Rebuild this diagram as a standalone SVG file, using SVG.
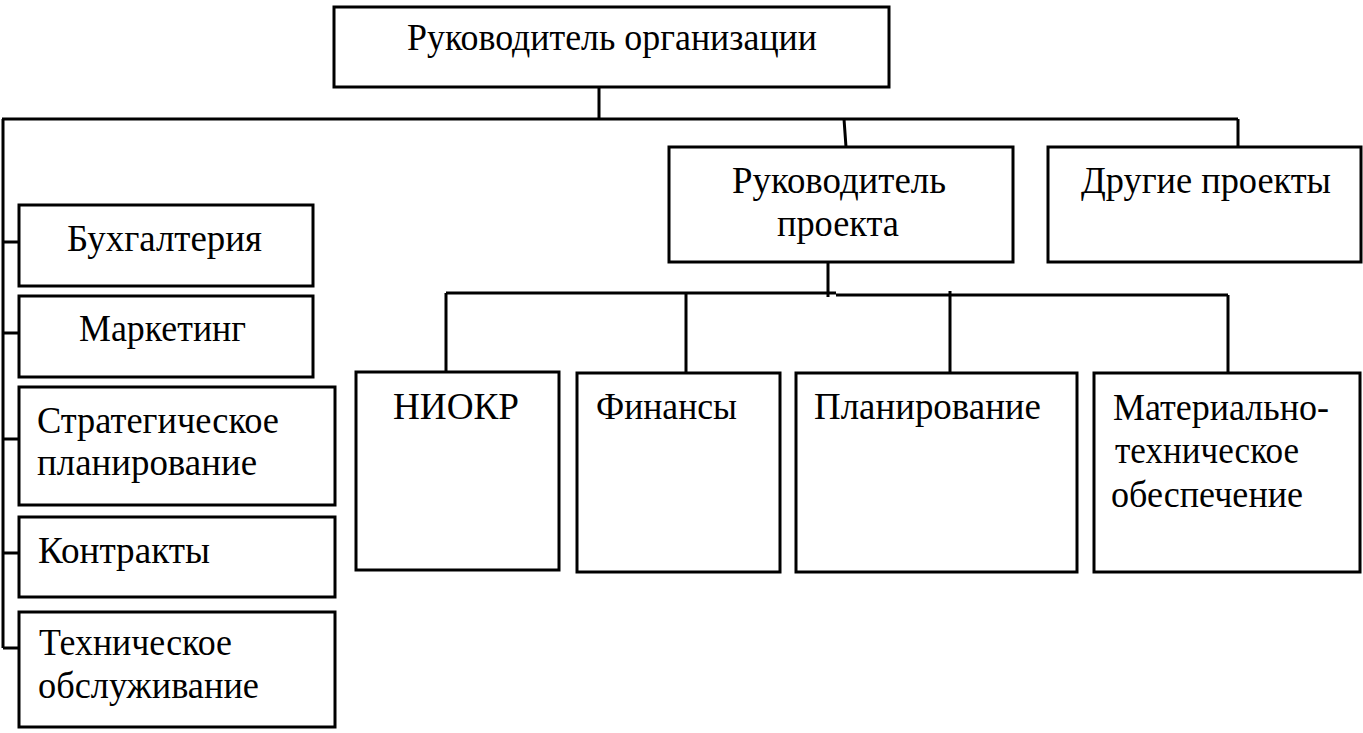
<svg xmlns="http://www.w3.org/2000/svg" width="1363" height="733" viewBox="0 0 1363 733">
<style>
rect{fill:#fff;stroke:#000;stroke-width:3}
.c{fill:none;stroke:#000;stroke-width:3}
text{font-family:"Liberation Serif","Times New Roman",serif;font-size:37px;fill:#000}
.m{text-anchor:middle}
</style>
<rect x="0" y="0" width="1363" height="733" style="stroke:none"/>
<g id="connectors">
<path class="c" d="M599,87V119M2,119H1238M3,119V648M844,119L846,147M1238,119V147"/>
<path class="c" d="M3,242H19M3,333H19M3,439H19M3,553H19M3,648H19"/>
<path class="c" d="M828,262V297M446,293H836M836,295H1228M446,293V374M686,294V373M950,291V373M1228,295V373"/>
</g>
<g id="n-org"><rect x="334" y="7" width="555" height="80"/><text x="407" y="50" textLength="410" lengthAdjust="spacingAndGlyphs">Руководитель организации</text></g>
<g id="n-rp"><rect x="669" y="147" width="344" height="115"/><text x="732" y="193" textLength="214" lengthAdjust="spacingAndGlyphs">Руководитель</text><text x="777" y="236" textLength="122" lengthAdjust="spacingAndGlyphs">проекта</text></g>
<g id="n-other"><rect x="1048" y="147" width="313" height="115"/><text x="1081" y="193" textLength="250" lengthAdjust="spacingAndGlyphs">Другие проекты</text></g>
<g id="n-buh"><rect x="19" y="205" width="294" height="81"/><text x="67" y="251" textLength="195" lengthAdjust="spacingAndGlyphs">Бухгалтерия</text></g>
<g id="n-mark"><rect x="19" y="296" width="294" height="81"/><text x="79" y="341" textLength="167" lengthAdjust="spacingAndGlyphs">Маркетинг</text></g>
<g id="n-strat"><rect x="19" y="387" width="316" height="118"/><text x="37" y="433" textLength="242" lengthAdjust="spacingAndGlyphs">Стратегическое</text><text x="37" y="475" textLength="220" lengthAdjust="spacingAndGlyphs">планирование</text></g>
<g id="n-contr"><rect x="19" y="517" width="316" height="80"/><text x="38" y="563" textLength="172" lengthAdjust="spacingAndGlyphs">Контракты</text></g>
<g id="n-tech"><rect x="19" y="612" width="316" height="115"/><text x="39" y="655" textLength="193" lengthAdjust="spacingAndGlyphs">Техническое</text><text x="38" y="698" textLength="221" lengthAdjust="spacingAndGlyphs">обслуживание</text></g>
<g id="n-niokr"><rect x="356" y="372" width="203" height="198"/><text x="393" y="419" textLength="126" lengthAdjust="spacingAndGlyphs">НИОКР</text></g>
<g id="n-fin"><rect x="577" y="373" width="203" height="199"/><text x="596" y="419" textLength="141" lengthAdjust="spacingAndGlyphs">Финансы</text></g>
<g id="n-plan"><rect x="796" y="373" width="281" height="199"/><text x="814" y="419" textLength="227" lengthAdjust="spacingAndGlyphs">Планирование</text></g>
<g id="n-mto"><rect x="1094" y="373" width="266" height="199"/><text x="1113" y="420" textLength="216" lengthAdjust="spacingAndGlyphs">Материально-</text><text x="1115" y="463" textLength="184" lengthAdjust="spacingAndGlyphs">техническое</text><text x="1111" y="507" textLength="192" lengthAdjust="spacingAndGlyphs">обеспечение</text></g>
</svg>
